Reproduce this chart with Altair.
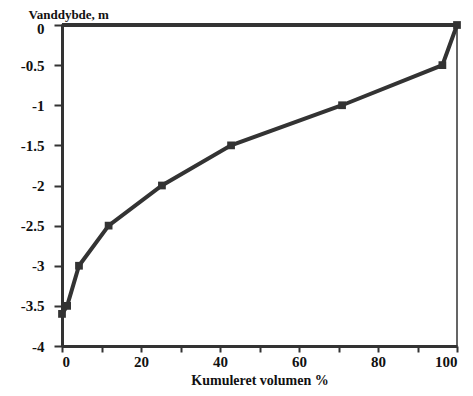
import altair as alt
import pandas as pd

volume = [0, 1.3, 4.3, 11.8, 25.3, 42.8, 70.9, 96.3, 100]
depth = [-3.6, -3.5, -3.0, -2.5, -2.0, -1.5, -1.0, -0.5, 0.0]

x_ticks = [0, 10, 20, 30, 40, 50, 60, 70, 80, 90, 100]
y_ticks = [0, -0.5, -1, -1.5, -2, -2.5, -3, -3.5, -4]

df = pd.DataFrame({"vol": volume, "depth": depth})
INK = "#333333"
FONT = "Liberation Serif"

x_enc = alt.X(
    "vol:Q",
    scale=alt.Scale(domain=[0, 100], nice=False),
    axis=alt.Axis(
        values=x_ticks,
        labelExpr="datum.value % 20 == 0 ? '' + datum.value : ''",
        title="Kumuleret volumen %",
        grid=False,
        domainWidth=3,
        domainColor=INK,
        tickColor=INK,
        tickWidth=2,
        tickSize=6,
        labelFont=FONT,
        labelFontSize=15,
        labelFontWeight="bold",
        labelColor="#111",
        labelPadding=2,
        titleFont=FONT,
        titleFontSize=14,
        titleFontWeight="bold",
        titleColor="#111",
        titlePadding=4,
    ),
)
y_enc = alt.Y(
    "depth:Q",
    scale=alt.Scale(domain=[-4, 0], nice=False),
    axis=alt.Axis(
        values=y_ticks,
        labelExpr="'' + datum.value",
        labelOffset={"condition": {"test": "datum.value == 0", "value": 3}, "value": 0},
        title="Vanddybde, m",
        titleAngle=0,
        titleAlign="left",
        titleBaseline="top",
        titleX=-34,
        titleY=-17,
        grid=False,
        domainWidth=3,
        domainColor=INK,
        tickColor=INK,
        tickWidth=2,
        tickSize=8,
        labelFont=FONT,
        labelFontSize=15,
        labelFontWeight="bold",
        labelColor="#111",
        labelPadding=10,
        titleFont=FONT,
        titleFontSize=13,
        titleFontWeight="bold",
        titleColor="#111",
    ),
)

line = alt.Chart(df).mark_line(
    color=INK, strokeWidth=4, point=alt.OverlayMarkDef(shape="square", size=60, filled=True, color=INK)
).encode(x=x_enc, y=y_enc)

top = alt.Chart(pd.DataFrame({"depth": [0.0]})).mark_rule(color=INK, strokeWidth=4).encode(
    y=alt.Y("depth:Q")
)

chart = (
    alt.layer(top, line)
    .properties(
        width=395,
        height=321,
        autosize=alt.AutoSizeParams(type="none"),
        padding={"left": 54, "top": 17, "right": 8, "bottom": 40},
    )
    .configure_view(stroke=INK, strokeWidth=1.5)
)

chart.save("out.html", embed_options={"renderer": "svg", "actions": False})
